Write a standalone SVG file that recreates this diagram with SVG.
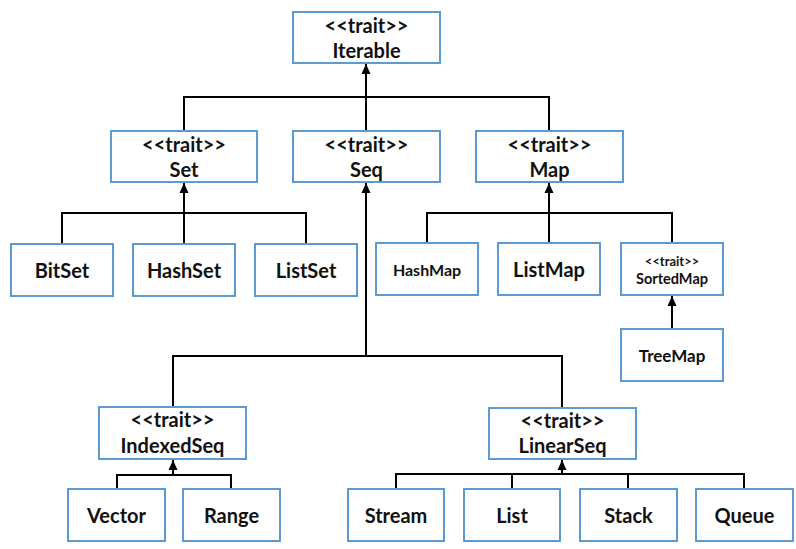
<svg xmlns="http://www.w3.org/2000/svg" width="796" height="549" viewBox="0 0 796 549">
<style>
.box{fill:#fff;stroke:#5B9BD5;stroke-width:2}
text{font-family:Lato,"Open Sans","Liberation Sans",sans-serif;font-weight:bold;fill:#111;text-anchor:middle}
.t{font-size:20px}
.n{font-size:20px}
.c{font-size:20px}
.e{fill:none;stroke:#000;stroke-width:2}
</style>
<defs>
<marker id="ah" markerUnits="userSpaceOnUse" markerWidth="10" markerHeight="10" refX="10" refY="5" orient="auto">
<path d="M0,0.5 L10,5 L0,9.5 z" fill="#000"/>
</marker>
</defs>
<g id="connectors">
<path class="e" d="M184,131 V97 H549 V131 M366,131 V97"/>
<path class="e" d="M366,97 V64" marker-end="url(#ah)"/>
<path class="e" d="M62,244 V213 H306 V244"/>
<path class="e" d="M184,244 V183" marker-end="url(#ah)"/>
<path class="e" d="M427,243 V213 H672 V243"/>
<path class="e" d="M549,243 V183" marker-end="url(#ah)"/>
<path class="e" d="M672,329 V296" marker-end="url(#ah)"/>
<path class="e" d="M173,407 V356 H562 V408"/>
<path class="e" d="M366,356 V183" marker-end="url(#ah)"/>
<path class="e" d="M117,489 V475 H231 V489"/>
<path class="e" d="M173,475 V460" marker-end="url(#ah)"/>
<path class="e" d="M396,489 V474 H744 V489 M512,474 V489 M628,474 V489"/>
<path class="e" d="M562,474 V460" marker-end="url(#ah)"/>
</g>
<g id="Iterable"><rect class="box" x="293" y="12" width="147" height="51"/><text class="t" x="366.5" y="33">&lt;&lt;trait&gt;&gt;</text><text class="n" x="366.5" y="58">Iterable</text></g>
<g id="Set"><rect class="box" x="111" y="131" width="146" height="51"/><text class="t" x="184" y="152">&lt;&lt;trait&gt;&gt;</text><text class="n" x="184" y="177">Set</text></g>
<g id="Seq"><rect class="box" x="293" y="131" width="147" height="51"/><text class="t" x="366.5" y="152">&lt;&lt;trait&gt;&gt;</text><text class="n" x="366.5" y="177">Seq</text></g>
<g id="Map"><rect class="box" x="476" y="131" width="147" height="51"/><text class="t" x="549.5" y="152">&lt;&lt;trait&gt;&gt;</text><text class="n" x="549.5" y="177">Map</text></g>
<g id="BitSet"><rect class="box" x="11" y="244" width="102" height="52"/><text class="c" x="62" y="278">BitSet</text></g>
<g id="HashSet"><rect class="box" x="133" y="244" width="102" height="52"/><text class="c" x="184" y="278">HashSet</text></g>
<g id="ListSet"><rect class="box" x="255" y="244" width="102" height="52"/><text class="c" x="306" y="278">ListSet</text></g>
<g id="HashMap"><rect class="box" x="376" y="243" width="102" height="52"/><text x="427" y="276" style="font-size:16px">HashMap</text></g>
<g id="ListMap"><rect class="box" x="498" y="243" width="102" height="52"/><text class="c" x="549" y="277">ListMap</text></g>
<g id="SortedMap"><rect class="box" x="621" y="243" width="102" height="52"/><text x="672" y="266" style="font-size:13px">&lt;&lt;trait&gt;&gt;</text><text x="672" y="284" style="font-size:14.5px">SortedMap</text></g>
<g id="TreeMap"><rect class="box" x="621" y="329" width="102" height="52"/><text x="672" y="362" style="font-size:17px">TreeMap</text></g>
<g id="IndexedSeq"><rect class="box" x="99" y="407" width="147" height="52"/><text class="t" x="172.5" y="427">&lt;&lt;trait&gt;&gt;</text><text class="n" x="172.5" y="453">IndexedSeq</text></g>
<g id="LinearSeq"><rect class="box" x="489" y="408" width="147" height="51"/><text class="t" x="562.5" y="428">&lt;&lt;trait&gt;&gt;</text><text class="n" x="562.5" y="453">LinearSeq</text></g>
<g id="Vector"><rect class="box" x="68" y="489" width="97" height="52"/><text class="c" x="116.5" y="523">Vector</text></g>
<g id="Range"><rect class="box" x="183" y="489" width="97" height="52"/><text class="c" x="231.5" y="523">Range</text></g>
<g id="Stream"><rect class="box" x="348" y="489" width="96" height="52"/><text class="c" x="396" y="523">Stream</text></g>
<g id="List"><rect class="box" x="464" y="489" width="96" height="52"/><text class="c" x="512" y="523">List</text></g>
<g id="Stack"><rect class="box" x="580" y="489" width="97" height="52"/><text class="c" x="628.5" y="523">Stack</text></g>
<g id="Queue"><rect class="box" x="696" y="489" width="97" height="52"/><text class="c" x="744.5" y="523">Queue</text></g>
</svg>
